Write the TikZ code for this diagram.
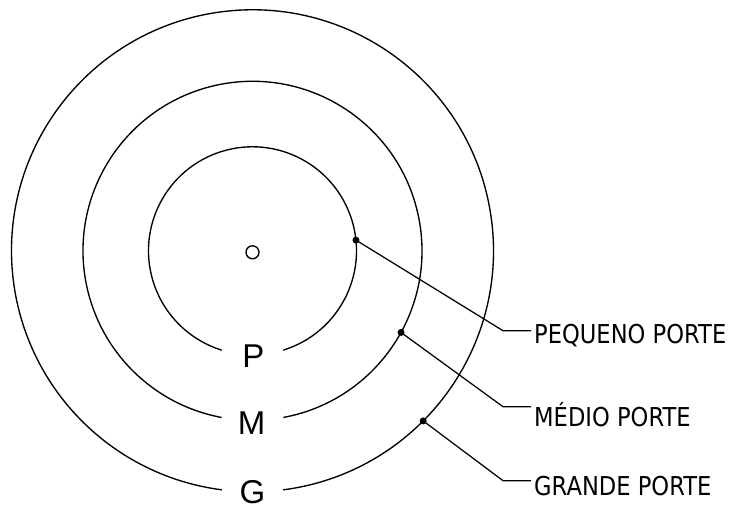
\documentclass[tikz,border=0pt]{standalone}
\usepackage{fontspec}
\usepackage{tikz}
\usetikzlibrary{calc, positioning}
\newfontfamily\ringfont{Liberation Sans}
\newfontfamily\calloutfont[FakeStretch=0.87]{DejaVu Sans}

\begin{document}
\begin{tikzpicture}[x=1pt, y=1pt,
    ring/.style={draw=black, line width=1.35pt},
    leader/.style={draw=black, line width=1.25pt},
    tickdot/.style={circle, fill=black, inner sep=0pt, minimum size=7pt},
    sizeletter/.style={anchor=base, inner sep=0pt, font=\ringfont\fontsize{33}{36}\selectfont},
    callout/.style={anchor=base west, inner xsep=3pt, inner ysep=0pt, font=\calloutfont\fontsize{26}{30}\selectfont}]

    \useasboundingbox (-252.5,-259.2) rectangle (481.5,250.8);

    % Centre mark
    \draw[ring] (0,-1.5) circle (6.5pt);

    % Rings, left open at the bottom for the letters
    \draw[ring] (-72.8:104pt) arc[start angle=-72.8, end angle=252.8, radius=104pt];
    \draw[ring] (-79.5:169.5pt) arc[start angle=-79.5, end angle=259.5, radius=169.5pt];
    \draw[ring] (-82.7:241pt) arc[start angle=-82.7, end angle=262.7, radius=241pt];

    % Size letters
    \node[sizeletter] (p) at (1,-116.5) {P};
    \node[sizeletter] (m) at (-0.8,-184.2) {M};
    \node[sizeletter] (g) at (0,-253.2) {G};

    % Points on the rings
    \node[tickdot] (pdot) at (5.9:104pt) {};
    \node[tickdot] (mdot) at (-28.8:169.5pt) {};
    \node[tickdot] (gdot) at (-44.9:241pt) {};

    % Callouts
    \coordinate (pbend) at (250.5,-79.9);
    \coordinate (mbend) at (250.5,-155.9);
    \coordinate (gbend) at (250.5,-229.9);
    \node[callout] (pequeno) at (278.5,-93.2) {PEQUENO PORTE};
    \node[callout] (medio) at (278.5,-175.9) {MÉDIO PORTE};
    \node[callout] (grande) at (278.5,-244.7) {GRANDE PORTE};

    % Leaders
    \draw[leader] (pdot.center) -- (pbend) -- (pbend -| pequeno.west);
    \draw[leader] (mdot.center) -- (mbend) -- (mbend -| medio.west);
    \draw[leader] (gdot.center) -- (gbend) -- (gbend -| grande.west);
\end{tikzpicture}
\end{document}
